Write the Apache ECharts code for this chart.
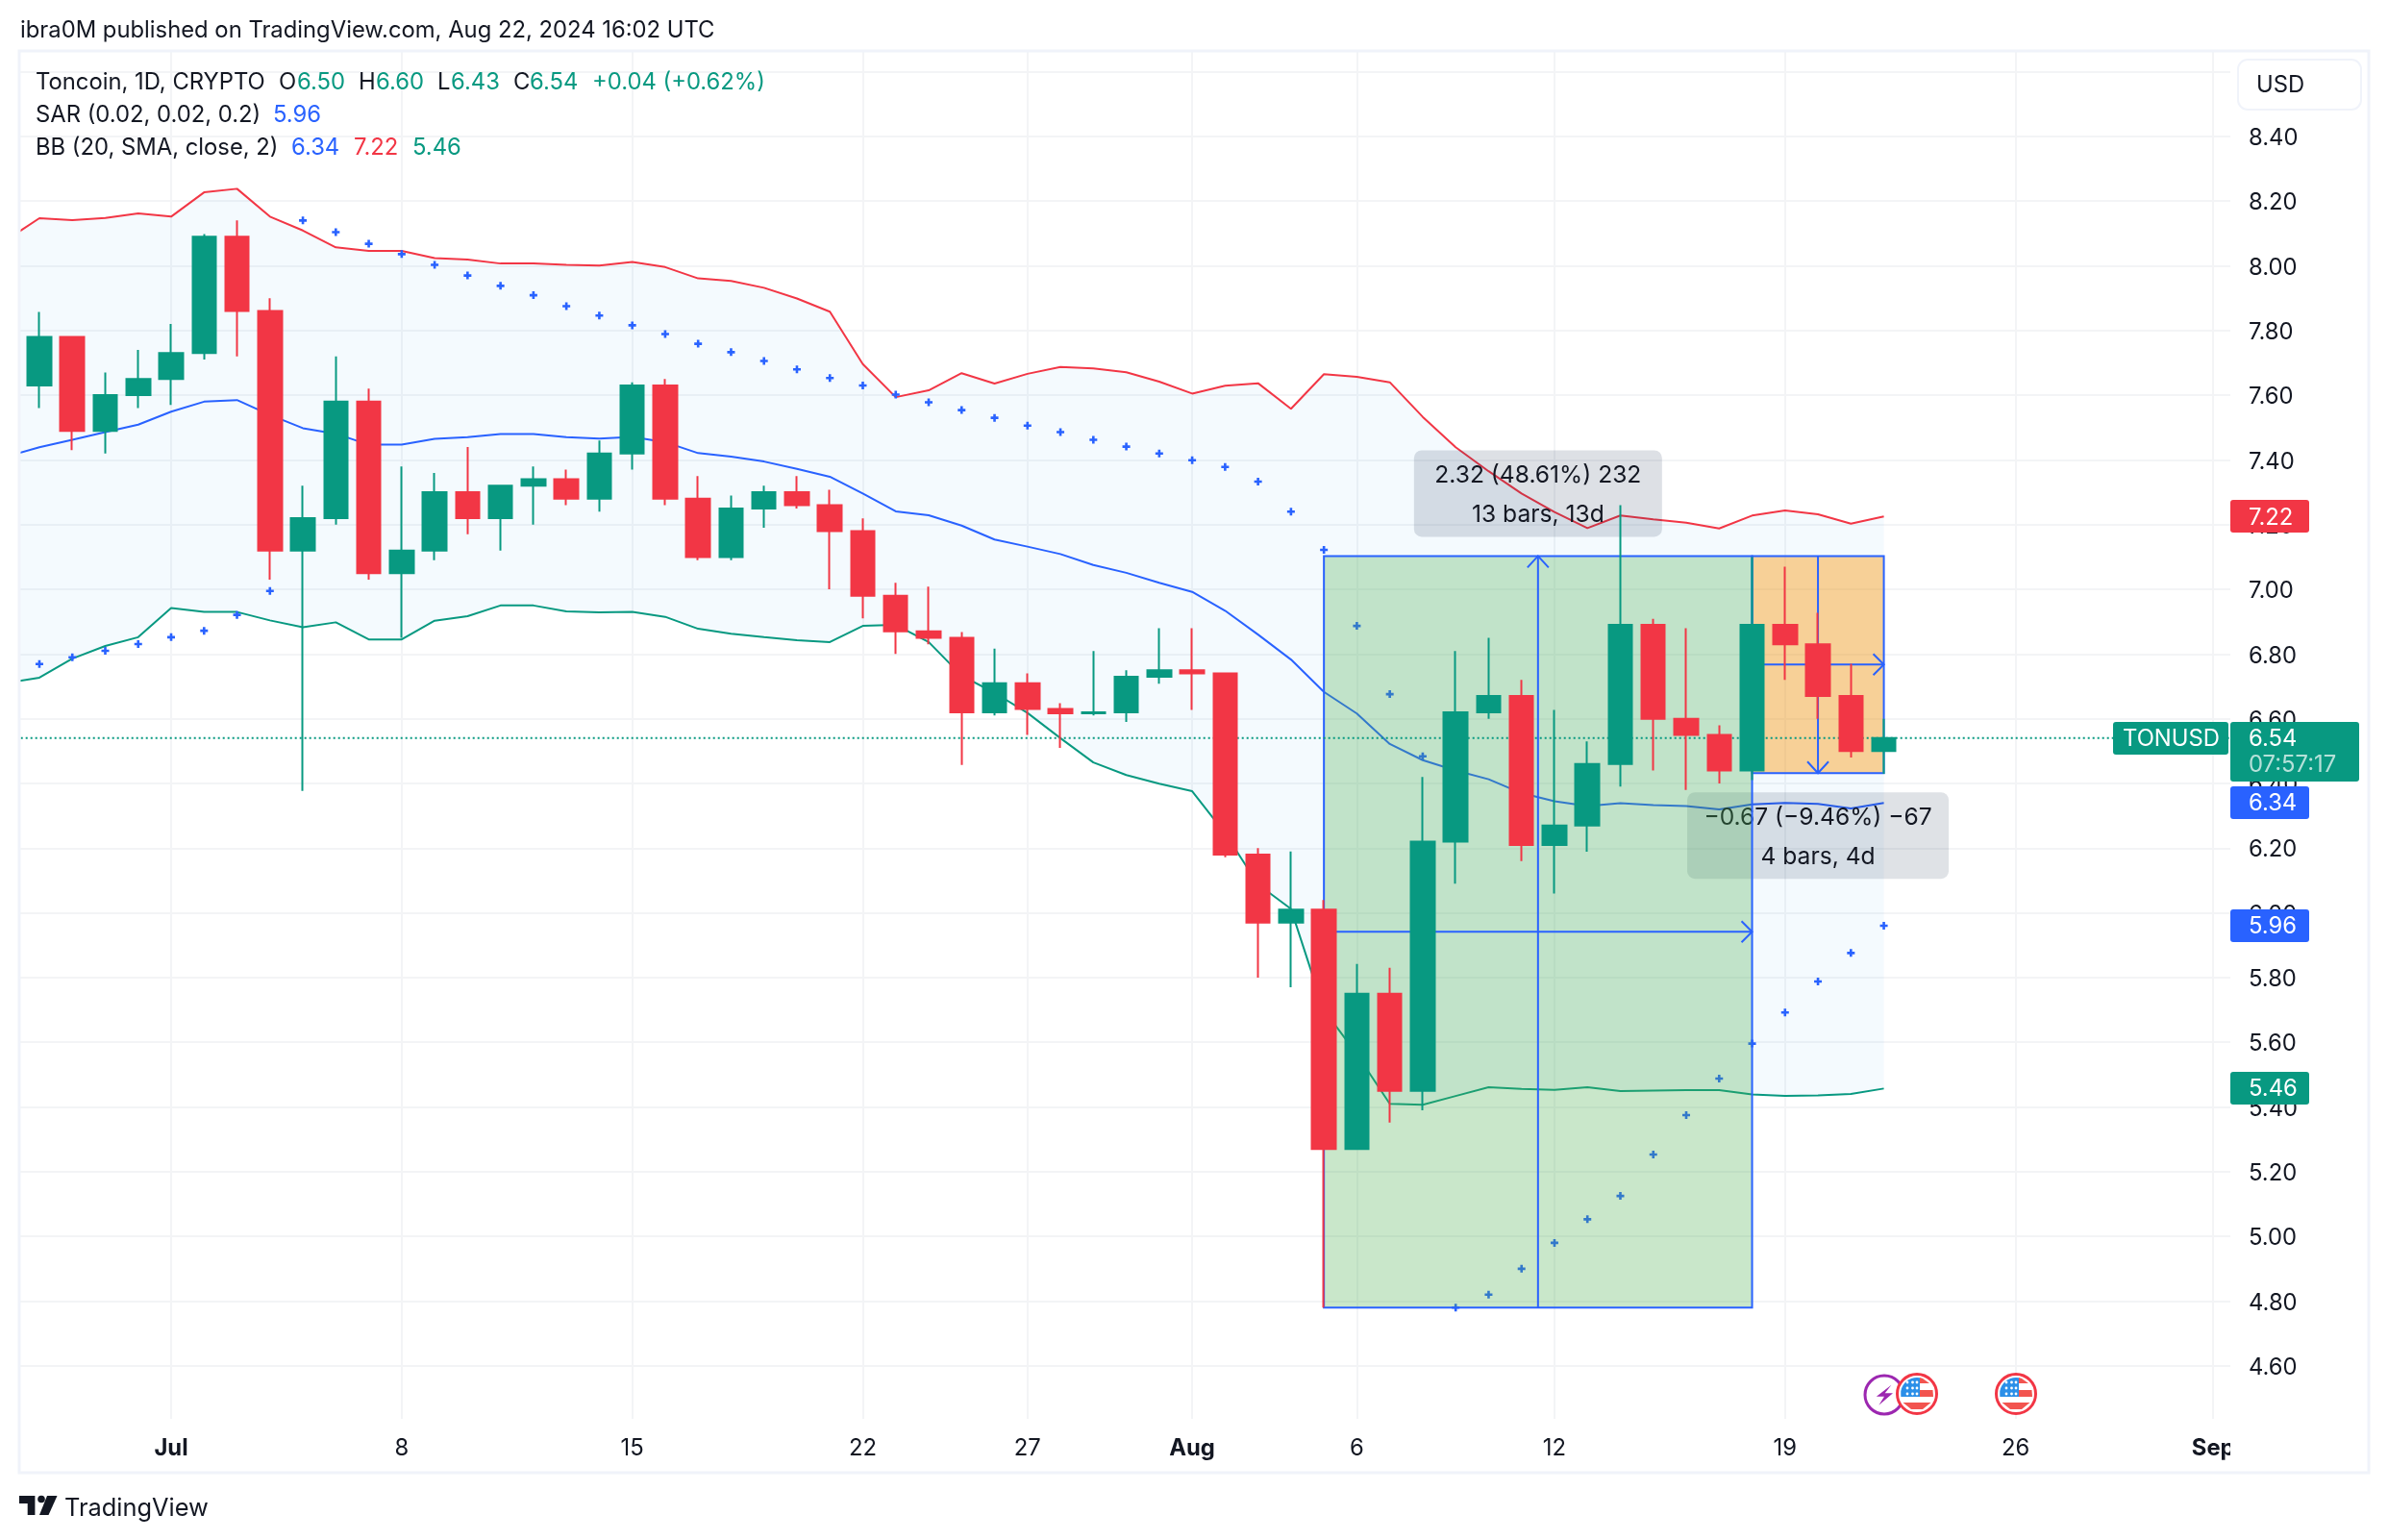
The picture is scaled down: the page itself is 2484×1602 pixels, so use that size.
<!DOCTYPE html>
<html>
<head>
<meta charset="utf-8">
<title>TONUSD</title>
<style>
  html, body { margin: 0; padding: 0; background: #fff; }
  #chart { width: 2484px; height: 1602px; }
</style>
<script src="https://cdn.jsdelivr.net/npm/echarts@6/dist/echarts.min.js"></script>
</head>
<body>
<div id="chart"></div>
<script>
// days are counted from Jun 27 = 0
const xTickValues = [4, 11, 18, 25, 30, 35, 40, 46, 53, 60, 66];
const xTickLabels = ['Jul', '8', '15', '22', '27', 'Aug', '6', '12', '19', '26', 'Sep'];
const boldTicks = ['Jul', 'Aug', 'Sep'];
const yTicks = [4.6, 4.8, 5.0, 5.2, 5.4, 5.6, 5.8, 6.0, 6.2, 6.4, 6.6, 6.8, 7.0, 7.2, 7.4, 7.6, 7.8, 8.0, 8.2, 8.4, 8.6];

// Jun 27 .. Aug 22
const opens = [7.63, 7.78, 7.49, 7.60, 7.65, 7.73, 8.09, 7.86, 7.12, 7.22, 7.58, 7.05, 7.12, 7.30, 7.22, 7.32, 7.34, 7.28, 7.42, 7.63, 7.28, 7.10, 7.25, 7.30, 7.26, 7.18, 6.98, 6.87, 6.85, 6.62, 6.71, 6.63, 6.617, 6.62, 6.73, 6.75, 6.74, 6.18, 5.97, 6.01, 5.27, 5.75, 5.45, 6.22, 6.62, 6.67, 6.21, 6.27, 6.46, 6.89, 6.60, 6.55, 6.44, 6.89, 6.83, 6.67, 6.50];
const closes = [7.78, 7.49, 7.60, 7.65, 7.73, 8.09, 7.86, 7.12, 7.22, 7.58, 7.05, 7.12, 7.30, 7.22, 7.32, 7.34, 7.28, 7.42, 7.63, 7.28, 7.10, 7.25, 7.30, 7.26, 7.18, 6.98, 6.87, 6.85, 6.62, 6.71, 6.63, 6.617, 6.62, 6.73, 6.75, 6.74, 6.18, 5.97, 6.01, 5.27, 5.75, 5.45, 6.22, 6.62, 6.67, 6.21, 6.27, 6.46, 6.89, 6.60, 6.55, 6.44, 6.89, 6.83, 6.67, 6.50, 6.54];
const lows = [7.56, 7.43, 7.42, 7.56, 7.57, 7.71, 7.72, 7.03, 6.377, 7.20, 7.03, 6.85, 7.09, 7.17, 7.12, 7.20, 7.26, 7.24, 7.37, 7.26, 7.09, 7.09, 7.19, 7.25, 7.00, 6.91, 6.80, 6.83, 6.457, 6.61, 6.55, 6.51, 6.61, 6.59, 6.708, 6.627, 6.172, 5.80, 5.77, 4.78, 5.27, 5.352, 5.39, 6.09, 6.60, 6.16, 6.06, 6.189, 6.39, 6.44, 6.38, 6.40, 6.41, 6.72, 6.60, 6.48, 6.43];
const highs = [7.857, 7.78, 7.67, 7.74, 7.82, 8.098, 8.14, 7.90, 7.32, 7.72, 7.62, 7.38, 7.36, 7.44, 7.32, 7.38, 7.37, 7.46, 7.64, 7.65, 7.35, 7.29, 7.32, 7.35, 7.308, 7.219, 7.02, 7.008, 6.868, 6.817, 6.74, 6.648, 6.809, 6.75, 6.88, 6.88, 6.74, 6.20, 6.19, 6.04, 5.842, 5.83, 6.42, 6.809, 6.85, 6.72, 6.627, 6.53, 7.26, 6.909, 6.88, 6.58, 7.10, 7.07, 6.927, 6.77, 6.60];

// Jun 27 .. Aug 22
const sar = [6.769, 6.79, 6.81, 6.831, 6.852, 6.872, 6.921, 6.995, 8.14, 8.104, 8.068, 8.036, 8.003, 7.97, 7.938, 7.909, 7.875, 7.846, 7.816, 7.789, 7.759, 7.733, 7.706, 7.68, 7.653, 7.63, 7.602, 7.578, 7.554, 7.53, 7.506, 7.486, 7.462, 7.441, 7.42, 7.399, 7.378, 7.333, 7.24, 7.122, 6.887, 6.676, 6.484, 4.78, 4.82, 4.90, 4.98, 5.053, 5.125, 5.253, 5.375, 5.488, 5.596, 5.692, 5.788, 5.876, 5.96];

// Jun 26 .. Aug 22, the first point only runs the lines up to the frame
const bbUpper = [8.08, 8.147, 8.141, 8.148, 8.162, 8.152, 8.227, 8.238, 8.152, 8.109, 8.057, 8.046, 8.046, 8.024, 8.019, 8.007, 8.007, 8.003, 8.001, 8.012, 7.996, 7.961, 7.953, 7.932, 7.899, 7.858, 7.696, 7.594, 7.615, 7.668, 7.636, 7.666, 7.687, 7.683, 7.671, 7.642, 7.605, 7.629, 7.637, 7.558, 7.665, 7.657, 7.64, 7.533, 7.439, 7.365, 7.296, 7.239, 7.189, 7.228, 7.216, 7.206, 7.188, 7.228, 7.244, 7.232, 7.203, 7.225];
const bbBasis = [7.41, 7.439, 7.462, 7.486, 7.509, 7.549, 7.58, 7.585, 7.539, 7.498, 7.481, 7.447, 7.447, 7.465, 7.47, 7.48, 7.48, 7.47, 7.466, 7.471, 7.455, 7.421, 7.41, 7.395, 7.372, 7.348, 7.296, 7.241, 7.229, 7.197, 7.154, 7.132, 7.109, 7.075, 7.051, 7.02, 6.992, 6.934, 6.86, 6.783, 6.683, 6.616, 6.522, 6.472, 6.44, 6.413, 6.37, 6.345, 6.33, 6.339, 6.333, 6.33, 6.32, 6.335, 6.34, 6.337, 6.323, 6.34];
const bbLower = [6.71, 6.727, 6.786, 6.825, 6.852, 6.942, 6.93, 6.93, 6.904, 6.883, 6.898, 6.845, 6.845, 6.903, 6.917, 6.95, 6.95, 6.932, 6.929, 6.93, 6.915, 6.878, 6.863, 6.852, 6.843, 6.837, 6.887, 6.89, 6.837, 6.733, 6.68, 6.618, 6.54, 6.465, 6.426, 6.399, 6.376, 6.246, 6.088, 6.012, 5.70, 5.563, 5.41, 5.407, 5.434, 5.461, 5.456, 5.453, 5.461, 5.449, 5.451, 5.452, 5.452, 5.439, 5.434, 5.436, 5.44, 5.457];

// x from, x to, y top, y bottom
const longMeasure = [39, 52, 7.103, 4.78];
const shortMeasure = [52, 56, 7.103, 6.432];
const lastPrice = 6.54;

const GREEN = '#089981';
const RED = '#f23645';
const BLUE = '#2962ff';
const INK = '#131722';
const GRID = '#f3f4f6';
const FONT = 'Inter, "Noto Sans", sans-serif';
const TEXT_SIZE = 23.8;
const TEXT_FONT = TEXT_SIZE + 'px ' + FONT;
const BOX_FONT = '24.6px ' + FONT;

function pad(list) {
  return list.map(function(v, i) { return [i - 1, v]; });
}

function chevron(x, y, dx, dy) {
  return {
    type: 'polyline',
    shape: {points: [[x + dx[0], y + dy[0]], [x, y], [x + dx[1], y + dy[1]]]},
    style: {fill: 'none', stroke: BLUE, lineWidth: 2}
  };
}

function measureItem(fill, labelFill, lines, up) {
  return function(params, api) {
    const tl = api.coord([api.value(0), api.value(2)]);
    const br = api.coord([api.value(1), api.value(3)]);
    const midX = (tl[0] + br[0]) / 2;
    const midY = (tl[1] + br[1]) / 2;
    const labelTop = up ? tl[1] - 110 : br[1] + 20;
    const seg = function(x1, y1, x2, y2) {
      return {type: 'line', shape: {x1: x1, y1: y1, x2: x2, y2: y2}, style: {stroke: BLUE, lineWidth: 2}};
    };
    const w = up ? 258 : 272;
    return {
      type: 'group',
      children: [
        {type: 'rect', shape: {x: midX - w / 2, y: labelTop, width: w, height: 90, r: 8}, style: {fill: labelFill}},
        {type: 'text', style: {x: midX, y: labelTop + 26, text: lines[0], fill: INK, font: BOX_FONT, align: 'center', verticalAlign: 'middle'}},
        {type: 'text', style: {x: midX, y: labelTop + 67, text: lines[1], fill: INK, font: BOX_FONT, align: 'center', verticalAlign: 'middle'}},
        {type: 'rect', shape: {x: tl[0], y: tl[1], width: br[0] - tl[0], height: br[1] - tl[1]}, style: {fill: fill, stroke: BLUE, lineWidth: 2}},
        seg(midX, tl[1], midX, br[1]),
        seg(tl[0], midY, br[0], midY),
        up ? chevron(midX, tl[1], [-11, 11], [12, 12]) : chevron(midX, br[1], [-11, 11], [-12, -12]),
        chevron(br[0], midY, [-11, -11], [-11, 11])
      ]
    };
  };
}

function bandItem(params, api) {
  const pts = [];
  bbUpper.forEach(function(v, i) { pts.push(api.coord([i - 1, v])); });
  for (let i = bbLower.length - 1; i >= 0; i--) pts.push(api.coord([i - 1, bbLower[i]]));
  return {type: 'polygon', shape: {points: pts}, style: {fill: 'rgba(33,150,243,0.05)'}};
}

function txt(x, y, text, fill, font) {
  return {type: 'text', z: 100, style: {x: x, y: y, text: text, fill: fill, font: font || TEXT_FONT, verticalAlign: 'middle'}};
}

function tag(x, y, w, h, fill) {
  return {type: 'rect', z: 99, shape: {x: x, y: y, width: w, height: h, r: 3}, style: {fill: fill}};
}

function flag(cx, cy) {
  // canton is the part of the disc left of x=3 and above y=3
  const canton = [[cx + 3, cy + 3], [cx - 16.7, cy + 3]];
  for (let a = 190; a <= 280; a += 10) {
    canton.push([cx + 17 * Math.cos(a * Math.PI / 180), cy + 17 * Math.sin(a * Math.PI / 180)]);
  }
  canton.push([cx + 3, cy - 16.7]);
  const items = [
    {type: 'circle', shape: {cx: cx, cy: cy, r: 20.5}, style: {fill: '#fff', stroke: RED, lineWidth: 3}},
    {type: 'polygon', shape: {points: canton}, style: {fill: '#2b8fe8'}},
    {type: 'polygon', shape: {points: [[cx + 3, cy - 17], [cx + 6, cy - 16], [cx + 13, cy - 11], [cx + 3, cy - 11]]}, style: {fill: '#f2544f'}},
    {type: 'polygon', shape: {points: [[cx + 3, cy - 4], [cx + 16.5, cy - 4], [cx + 17, cy + 3], [cx + 3, cy + 3]]}, style: {fill: '#f2544f'}},
    {type: 'polygon', shape: {points: [[cx - 14.5, cy + 9], [cx + 14.5, cy + 9], [cx + 6, cy + 16], [cx - 6, cy + 16]]}, style: {fill: '#f2544f'}}
  ];
  [-12, -6, 0].forEach(function(dy) {
    [-10, -4.5, 0].forEach(function(dx) {
      items.push({type: 'circle', shape: {cx: cx + dx, cy: cy + dy, r: 1.4}, style: {fill: '#fff'}});
    });
  });
  return items.map(function(el) { el.z = 98; return el; });
}

function renderChart() {
  const chart = echarts.init(document.getElementById('chart'));

  const graphics = [
    // frame
    {type: 'rect', z: 90, shape: {x: 20, y: 53, width: 2444, height: 1479}, style: {fill: 'none', stroke: '#f0f3fa', lineWidth: 3}},
    // hides the tail of the Sep label
    {type: 'rect', z: 91, shape: {x: 2320, y: 1478, width: 140, height: 52}, style: {fill: '#fff'}},

    txt(21, 32, 'ibra0M published on TradingView.com, Aug 22, 2024 16:02 UTC', INK),
    txt(37, 86, 'Toncoin, 1D, CRYPTO', INK),
    txt(290, 86, 'O', INK), txt(309, 86, '6.50', GREEN),
    txt(373, 86, 'H', INK), txt(391, 86, '6.60', GREEN),
    txt(455, 86, 'L', INK), txt(469, 86, '6.43', GREEN),
    txt(534, 86, 'C', INK), txt(551, 86, '6.54', GREEN),
    txt(616, 86, '+0.04 (+0.62%)', GREEN),
    txt(37, 120, 'SAR (0.02, 0.02, 0.2)', INK), txt(284, 120, '5.96', BLUE),
    txt(37, 154, 'BB (20, SMA, close, 2)', INK),
    txt(303, 154, '6.34', BLUE), txt(368, 154, '7.22', RED), txt(429, 154, '5.46', GREEN),

    {type: 'rect', z: 95, shape: {x: 2328, y: 62, width: 128, height: 52, r: 10}, style: {fill: '#fff', stroke: '#f0f3fa', lineWidth: 2}},
    txt(2347, 89, 'USD', INK),

    tag(2320, 520, 82, 34, RED), txt(2339, 539, '7.22', '#fff'),
    tag(2198, 751, 120, 34, GREEN), txt(2208, 769, 'TONUSD', '#fff'),
    tag(2320, 751, 134, 62, GREEN), txt(2339, 769, '6.54', '#fff'),
    txt(2339, 796, '07:57:17', 'rgba(255,255,255,0.7)'),
    tag(2320, 818, 82, 34, BLUE), txt(2339, 836, '6.34', '#fff'),
    tag(2320, 946, 82, 34, BLUE), txt(2339, 964, '5.96', '#fff'),
    tag(2320, 1115, 82, 34, GREEN), txt(2339, 1133, '5.46', '#fff'),

    // event icons
    {type: 'circle', z: 97, shape: {cx: 1960, cy: 1451, r: 20}, style: {fill: '#fff', stroke: '#9c27b0', lineWidth: 3}},
    {type: 'polygon', z: 97, shape: {points: [[1967.4, 1440.7], [1951.8, 1452.7], [1960, 1452.7], [1954.4, 1461.7], [1969, 1449.3], [1960.7, 1449.3]]}, style: {fill: '#9c27b0'}}
  ].concat(flag(1994, 1450), flag(2097, 1450), [
    // logo
    {type: 'polygon', z: 100, shape: {points: [[20, 1556], [36.4, 1556], [36.4, 1576], [28.7, 1576], [28.7, 1564], [20, 1564]]}, style: {fill: INK}},
    {type: 'circle', z: 100, shape: {cx: 43, cy: 1559.5, r: 3.8}, style: {fill: INK}},
    {type: 'polygon', z: 100, shape: {points: [[49, 1556], [59.5, 1556], [50.5, 1576], [41, 1576]]}, style: {fill: INK}},
    txt(67, 1569, 'TradingView', INK, '25.4px ' + FONT)
  ]);

  const option = {
    animation: false,
    backgroundColor: '#fff',
    grid: {left: 20, right: 164, top: 53, height: 1423},
    xAxis: {
      type: 'value',
      min: -0.612,
      max: 66.52,
      axisLine: {show: false},
      axisTick: {show: false, customValues: xTickValues},
      splitLine: {show: true, lineStyle: {color: GRID, width: 2}},
      axisLabel: {
        customValues: xTickValues,
        margin: 19,
        color: INK,
        fontFamily: FONT,
        fontSize: TEXT_SIZE,
        verticalAlign: 'top',
        formatter: function(v) {
          const s = xTickLabels[xTickValues.indexOf(v)];
          return boldTicks.indexOf(s) >= 0 ? '{b|' + s + '}' : s;
        },
        rich: {b: {fontWeight: 700, color: INK, fontFamily: FONT, fontSize: TEXT_SIZE}}
      }
    },
    yAxis: {
      type: 'value',
      position: 'right',
      min: 4.436,
      max: 8.664,
      axisLine: {show: false},
      axisTick: {show: false, customValues: yTicks},
      splitLine: {show: true, lineStyle: {color: GRID, width: 2}},
      axisLabel: {
        customValues: yTicks,
        margin: 19,
        formatter: function(v) { return '{p|' + v.toFixed(2) + '}'; },
        rich: {p: {color: INK, fontFamily: FONT, fontSize: TEXT_SIZE, padding: [4, 0, 0, 0]}}
      }
    },
    series: [
      {type: 'custom', name: 'band', z: 1, clip: true, silent: true, data: [[0, 7]], encode: {x: 0, y: 1}, renderItem: bandItem},
      {type: 'line', name: 'upper', z: 2, showSymbol: false, lineStyle: {color: RED, width: 2}, data: pad(bbUpper)},
      {type: 'line', name: 'basis', z: 2, showSymbol: false, lineStyle: {color: BLUE, width: 2}, data: pad(bbBasis)},
      {type: 'line', name: 'lower', z: 2, showSymbol: false, lineStyle: {color: GREEN, width: 2}, data: pad(bbLower)},
      {
        type: 'scatter', name: 'SAR', z: 2,
        symbol: 'path://M2.7 0h2.6v2.7h2.7v2.6H5.3V8H2.7V5.3H0V2.7h2.7z',
        symbolSize: 8,
        itemStyle: {color: BLUE, opacity: 1},
        data: sar.map(function(v, i) { return [i, v]; })
      },
      {
        type: 'custom', name: 'short', z: 3, silent: true,
        data: [shortMeasure], encode: {x: [0, 1], y: [2, 3]},
        renderItem: measureItem('rgba(250,150,10,0.42)', 'rgba(30,50,80,0.14)', ['\u22120.67 (\u22129.46%) \u221267', '4 bars, 4d'], false)
      },
      {
        type: 'custom', name: 'long', z: 4, silent: true,
        data: [longMeasure], encode: {x: [0, 1], y: [2, 3]},
        renderItem: measureItem('rgba(76,175,80,0.3)', 'rgba(30,50,80,0.15)', ['2.32 (48.61%) 232', '13 bars, 13d'], true)
      },
      {
        type: 'line', name: 'last', z: 5, showSymbol: false,
        lineStyle: {color: GREEN, width: 2, type: [2, 3]},
        data: [[-1, lastPrice], [67, lastPrice]]
      },
      {
        type: 'candlestick', name: 'TONUSD', z: 6,
        barWidth: 25,
        itemStyle: {color: GREEN, color0: RED, borderColor: GREEN, borderColor0: RED, borderWidth: 2},
        encode: {x: 0, y: [1, 2, 3, 4]},
        data: opens.map(function(o, i) { return [i, o, closes[i], lows[i], highs[i]]; })
      }
    ],
    graphic: graphics
  };
  chart.setOption(option, true);
}

renderChart();
</script>
</body>
</html>
